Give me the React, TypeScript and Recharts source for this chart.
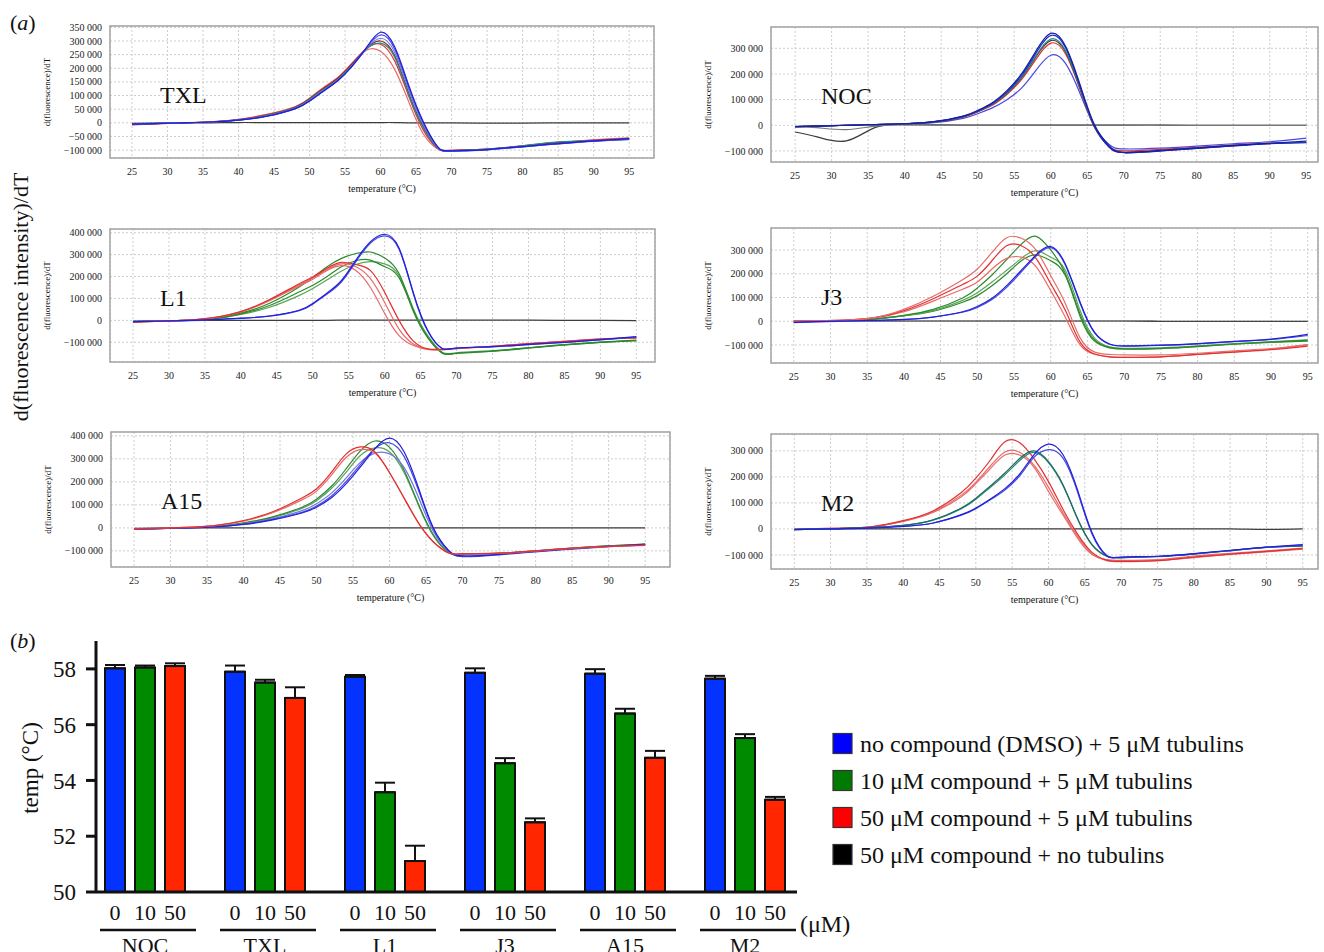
import React from 'react';
import {
  LineChart, Line, XAxis, YAxis, CartesianGrid, ReferenceArea,
  BarChart, Bar, ErrorBar,
} from 'recharts';

const SERIF = '"Liberation Serif", "Times New Roman", serif';

// temperatures (°C) at which the melt curves are sampled
const TEMPS = [25, 28, 32, 36, 40, 44, 48, 50, 52, 54, 56, 58, 60, 62, 64, 66, 68, 70, 75, 80, 85, 90, 95];
const TEMP_TICKS = [25, 30, 35, 40, 45, 50, 55, 60, 65, 70, 75, 80, 85, 90, 95];

// d(fluorescence)/dT values, in thousands
const txlBlue1 = [-5, -3, 0, 3, 10, 24, 52, 80, 117, 155, 208, 276, 332, 278, 135, 5, -86, -103, -98, -87, -76, -66, -58];
const txlBlue2 = [-5, -3, 0, 3, 10, 24, 52, 80, 117, 155, 208, 274, 322, 270, 128, 0, -88, -104, -99, -88, -77, -67, -59];
const txlBlue3 = [-5, -3, 0, 3, 10, 25, 53, 82, 119, 157, 210, 272, 310, 258, 118, -6, -90, -104, -99, -88, -77, -68, -60];
const txlTeal = [-4, -2, 0, 3, 11, 27, 56, 86, 123, 160, 212, 270, 292, 240, 100, -18, -92, -102, -96, -84, -70, -66, -62];
const txlDark = [-5, -3, 0, 3, 11, 27, 57, 88, 126, 163, 215, 273, 300, 246, 106, -14, -92, -103, -97, -85, -73, -66, -60];
const txlRed1 = [-8, -4, 0, 4, 13, 31, 60, 90, 130, 167, 220, 266, 262, 195, 75, -40, -95, -101, -96, -84, -72, -62, -55];
const txlRed2 = [-7, -4, 0, 4, 12, 30, 58, 88, 128, 165, 218, 272, 288, 226, 95, -26, -93, -101, -96, -85, -72, -63, -57];
const txlBlack = [-2, -1, 0, 0, 1, 1, 1, 1, 1, 1, 1, 1, 1, 1, 0, 0, 0, 0, -1, -1, 0, 0, 0];

const nocBlue1 = [-5, -3, 0, 3, 6, 14, 36, 58, 88, 135, 200, 290, 358, 310, 160, 2, -80, -105, -98, -88, -78, -70, -62];
const nocBlue2 = [-5, -3, 0, 3, 6, 14, 35, 56, 85, 130, 194, 282, 350, 304, 154, -4, -85, -107, -100, -90, -80, -72, -68];
const nocTeal = [-5, -3, 0, 3, 6, 13, 34, 55, 83, 127, 188, 272, 336, 292, 148, -5, -84, -106, -99, -89, -79, -70, -66];
const nocDark = [-5, -3, 0, 3, 6, 13, 33, 54, 82, 125, 185, 268, 330, 288, 146, -6, -85, -106, -100, -90, -80, -71, -67];
const nocRed = [-5, -3, 0, 3, 6, 12, 32, 52, 78, 120, 178, 258, 320, 280, 140, -8, -82, -100, -94, -86, -77, -69, -66];
const nocPurple = [-5, -3, 0, 3, 5, 10, 27, 45, 68, 100, 145, 215, 273, 242, 125, -5, -75, -92, -89, -81, -72, -64, -50];
const nocBlack1 = [-26, -45, -61, -8, 3, 2, 1, 1, 1, 1, 1, 1, 1, 1, 1, 1, 1, 1, 1, 0, 0, 0, 0];
const nocBlack2 = [-5, -9, -17, -3, 2, 1, 1, 1, 1, 1, 1, 1, 1, 1, 1, 1, 1, 1, 1, 0, 0, 0, 0];

const l1Blue1 = [-6, -4, -1, 3, 10, 20, 45, 77, 125, 182, 275, 358, 393, 330, 125, -46, -128, -126, -120, -110, -100, -88, -74];
const l1Blue2 = [-6, -4, -1, 3, 9, 19, 43, 74, 120, 176, 268, 352, 386, 325, 120, -50, -129, -127, -121, -111, -101, -89, -76];
const l1Green1 = [-6, -4, 0, 8, 33, 78, 150, 196, 245, 283, 305, 312, 285, 214, 46, -76, -148, -150, -140, -125, -111, -99, -90];
const l1Green2 = [-6, -4, 0, 7, 30, 68, 128, 160, 200, 245, 272, 275, 245, 195, 40, -80, -150, -151, -141, -127, -112, -100, -92];
const l1Green3 = [-6, -4, 0, 6, 27, 60, 112, 145, 185, 225, 255, 268, 258, 205, 52, -70, -145, -148, -138, -125, -112, -100, -92];
const l1Red1 = [-8, -5, 0, 12, 40, 95, 165, 198, 238, 265, 255, 228, 128, 0, -95, -130, -132, -128, -118, -106, -96, -85, -80];
const l1Red2 = [-8, -5, 0, 12, 40, 93, 160, 193, 232, 258, 245, 192, 82, -40, -108, -132, -134, -129, -119, -107, -96, -86, -80];
const l1Red3 = [-8, -5, 0, 11, 38, 90, 155, 188, 228, 250, 228, 151, 32, -70, -115, -133, -134, -129, -119, -107, -96, -86, -80];
const l1Black = [-3, -2, -1, 0, 0, 0, 0, 0, 0, 1, 1, 1, 1, 1, 1, 1, 1, 1, 1, 1, 0, 0, -1];

const j3Blue1 = [-5, -2, 1, 4, 8, 18, 40, 62, 97, 150, 215, 280, 315, 240, 80, -48, -96, -104, -101, -94, -85, -75, -55];
const j3Blue2 = [-6, -3, 0, 3, 7, 17, 38, 58, 92, 143, 208, 275, 310, 236, 76, -50, -97, -105, -102, -95, -86, -77, -60];
const j3Green1 = [-2, 0, 3, 10, 25, 50, 98, 140, 195, 260, 325, 358, 300, 200, 30, -80, -110, -116, -114, -106, -96, -88, -80];
const j3Green2 = [-2, 0, 3, 10, 24, 45, 88, 120, 165, 215, 265, 298, 270, 215, 45, -72, -108, -114, -112, -104, -94, -86, -78];
const j3Green3 = [-2, 0, 3, 9, 22, 42, 80, 108, 150, 200, 255, 280, 255, 192, 20, -85, -112, -118, -115, -107, -97, -89, -84];
const j3Red1 = [0, 2, 5, 15, 50, 105, 175, 220, 290, 352, 350, 300, 192, 74, -70, -130, -140, -142, -142, -135, -125, -115, -98];
const j3Red2 = [0, 2, 5, 15, 45, 95, 155, 190, 255, 318, 318, 265, 158, 45, -88, -138, -150, -152, -150, -140, -130, -120, -105];
const j3Red3 = [0, 2, 5, 14, 40, 85, 135, 165, 220, 265, 270, 230, 129, 16, -100, -140, -150, -152, -150, -140, -128, -118, -100];
const j3Black = [1, 1, 1, 1, 1, 1, 1, 1, 1, 1, 1, 1, 1, 1, 1, 1, 1, 1, 0, 0, 0, 0, 0];

const a15Blue1 = [-5, -3, 0, 4, 15, 35, 65, 90, 130, 190, 265, 345, 390, 330, 170, 0, -95, -122, -115, -102, -90, -80, -72];
const a15Blue2 = [-5, -3, 0, 4, 16, 37, 68, 95, 138, 200, 275, 345, 370, 310, 160, -5, -98, -125, -117, -104, -92, -82, -74];
const a15Blue3 = [-5, -3, 0, 5, 18, 40, 75, 105, 150, 215, 285, 325, 322, 262, 130, -15, -100, -118, -113, -101, -90, -80, -72];
const a15Green1 = [-5, -3, 1, 6, 22, 48, 90, 125, 180, 255, 335, 378, 350, 250, 100, -30, -105, -115, -110, -100, -88, -78, -70];
const a15Green2 = [-5, -3, 1, 6, 20, 45, 85, 118, 170, 240, 315, 348, 330, 240, 95, -35, -106, -116, -111, -100, -88, -78, -70];
const a15Red1 = [-4, -2, 2, 10, 32, 70, 130, 170, 240, 320, 352, 330, 240, 130, 20, -60, -108, -112, -110, -100, -88, -80, -75];
const a15Red2 = [-4, -2, 2, 10, 30, 66, 122, 160, 228, 305, 340, 325, 240, 128, 18, -62, -108, -113, -111, -101, -89, -81, -76];
const a15Black = [-2, -1, 0, 0, 0, 0, 0, 0, 0, 0, 0, 0, 0, 0, 0, 0, 0, 0, 0, 0, 0, 0, 0];

const m2Blue1 = [-3, -1, 1, 4, 10, 22, 55, 80, 115, 155, 210, 285, 326, 285, 150, -15, -102, -108, -105, -95, -82, -70, -60];
const m2Blue2 = [-3, -1, 1, 4, 10, 22, 53, 78, 112, 150, 203, 275, 305, 272, 142, -20, -103, -109, -106, -96, -83, -71, -62];
const m2Teal1 = [-2, 0, 2, 6, 14, 34, 80, 118, 165, 215, 270, 300, 259, 170, 40, -60, -104, -110, -106, -96, -83, -70, -65];
const m2Teal2 = [-2, 0, 2, 6, 14, 33, 78, 114, 160, 208, 262, 294, 255, 166, 38, -62, -105, -111, -107, -97, -84, -71, -66];
const m2Red1 = [-2, 1, 3, 10, 32, 68, 140, 195, 265, 335, 332, 270, 182, 75, -20, -90, -120, -125, -122, -108, -97, -86, -76];
const m2Red2 = [-2, 1, 3, 9, 30, 64, 130, 180, 242, 296, 295, 245, 160, 62, -28, -95, -122, -126, -122, -110, -98, -88, -78];
const m2Red3 = [-2, 1, 3, 9, 29, 62, 124, 174, 232, 284, 284, 238, 144, 54, -35, -98, -118, -121, -118, -104, -94, -84, -74];
const m2Black = [-3, -1, 0, 0, 0, 0, 0, 0, 0, 0, 0, 0, 0, 0, 0, 0, 0, 0, 0, 0, 0, -2, 0];

// melting temperatures (bar chart)
const GROUPS = ['NOC', 'TXL', 'L1', 'J3', 'A15', 'M2'];
const DOSES = ['0', '10', '50'];
const dmsoMean = [58.02, 57.9, 57.72, 57.86, 57.83, 57.65];
const dmsoErr = [0.12, 0.22, 0.06, 0.16, 0.16, 0.1];
const c10Mean = [58.05, 57.51, 53.58, 54.62, 56.4, 55.52];
const c10Err = [0.07, 0.1, 0.34, 0.18, 0.17, 0.14];
const c50Mean = [58.1, 56.96, 51.11, 52.5, 54.81, 53.31];
const c50Err = [0.1, 0.38, 0.55, 0.14, 0.25, 0.1];

const LEGEND = [
  { label: 'no compound (DMSO) + 5 μM tubulins', color: '#0000ff' },
  { label: '10 μM compound + 5 μM tubulins', color: '#007a00' },
  { label: '50 μM compound + 5 μM tubulins', color: '#ff0000' },
  { label: '50 μM compound + no tubulins', color: '#000000' },
];

const BLUE = '#2020d8';
const NAVY = '#14219e';
const BLUE_MID = '#4848e2';
const BLUE_LIGHT = '#7474ea';
const GREEN = '#2c8a2c';
const GREEN_LIGHT = '#5aa55a';
const TEAL = '#2a8c7c';
const DARK_TEAL = '#1f6b5e';
const RED = '#e23030';
const RED_LIGHT = '#e96a6a';
const DARK_RED = '#7a2a2a';
const GREY = '#3c3c3c';

interface Curve { values: number[]; color: string }
interface PanelDef {
  title: string;
  x: number; y: number; w: number; h: number;
  xDomain: [number, number];
  yDomain: [number, number];
  yTicks: number[];
  curves: Curve[];
}

const PANELS: PanelDef[] = [
  {
    title: 'TXL', x: 110, y: 26, w: 544, h: 132, xDomain: [21.9, 98.5], yDomain: [-129, 355],
    yTicks: [-100, -50, 0, 50, 100, 150, 200, 250, 300, 350],
    curves: [
      { values: txlBlack, color: GREY }, { values: txlRed1, color: RED_LIGHT }, { values: txlRed2, color: RED },
      { values: txlDark, color: DARK_RED }, { values: txlTeal, color: TEAL }, { values: txlBlue3, color: BLUE_LIGHT },
      { values: txlBlue2, color: BLUE_MID }, { values: txlBlue1, color: BLUE },
    ],
  },
  {
    title: 'NOC', x: 771, y: 27, w: 547, h: 135, xDomain: [21.7, 96.6], yDomain: [-143, 383],
    yTicks: [-100, 0, 100, 200, 300],
    curves: [
      { values: nocBlack1, color: GREY }, { values: nocBlack2, color: '#777777' }, { values: nocPurple, color: BLUE_MID },
      { values: nocRed, color: RED }, { values: nocDark, color: GREY }, { values: nocTeal, color: TEAL },
      { values: nocBlue2, color: BLUE }, { values: nocBlue1, color: NAVY },
    ],
  },
  {
    title: 'L1', x: 110, y: 229, w: 545, h: 133, xDomain: [21.8, 97.6], yDomain: [-190, 417],
    yTicks: [-100, 0, 100, 200, 300, 400],
    curves: [
      { values: l1Black, color: GREY }, { values: l1Green3, color: GREEN_LIGHT }, { values: l1Green2, color: GREEN },
      { values: l1Green1, color: GREEN }, { values: l1Red3, color: RED_LIGHT }, { values: l1Red2, color: RED_LIGHT },
      { values: l1Red1, color: RED }, { values: l1Blue2, color: BLUE_MID }, { values: l1Blue1, color: BLUE },
    ],
  },
  {
    title: 'J3', x: 771, y: 228, w: 547, h: 135, xDomain: [21.9, 96.4], yDomain: [-176, 393],
    yTicks: [-100, 0, 100, 200, 300],
    curves: [
      { values: j3Black, color: '#111111' }, { values: j3Green3, color: GREEN }, { values: j3Green2, color: GREEN_LIGHT },
      { values: j3Green1, color: GREEN }, { values: j3Red3, color: RED_LIGHT }, { values: j3Red2, color: RED },
      { values: j3Red1, color: RED_LIGHT }, { values: j3Blue2, color: BLUE_MID }, { values: j3Blue1, color: BLUE },
    ],
  },
  {
    title: 'A15', x: 111, y: 432, w: 559, h: 135, xDomain: [21.85, 98.4], yDomain: [-170, 417],
    yTicks: [-100, 0, 100, 200, 300, 400],
    curves: [
      { values: a15Black, color: GREY }, { values: a15Green2, color: GREEN_LIGHT }, { values: a15Green1, color: GREEN },
      { values: a15Blue3, color: BLUE_LIGHT }, { values: a15Blue2, color: BLUE_MID }, { values: a15Blue1, color: BLUE },
      { values: a15Red2, color: RED_LIGHT }, { values: a15Red1, color: RED },
    ],
  },
  {
    title: 'M2', x: 771, y: 434, w: 547, h: 135, xDomain: [21.8, 97.1], yDomain: [-154, 365],
    yTicks: [-100, 0, 100, 200, 300],
    curves: [
      { values: m2Black, color: GREY }, { values: m2Red3, color: RED_LIGHT }, { values: m2Red2, color: RED_LIGHT },
      { values: m2Red1, color: RED }, { values: m2Teal2, color: TEAL }, { values: m2Teal1, color: DARK_TEAL },
      { values: m2Blue2, color: BLUE_MID }, { values: m2Blue1, color: BLUE },
    ],
  },
];

const YW = 66;
const TOP = 8;

const fmtK = (v: number) => (v === 0 ? '0' : `${v < 0 ? '\u2212' : ''}${Math.abs(v)} 000`);

const smallTick = { fontSize: 10, fill: '#222', fontFamily: SERIF };

const MeltPanel = ({ p }: { p: PanelDef }) => {
  const rows = TEMPS.map((t, i) => {
    const row: Record<string, number> = { t };
    p.curves.forEach((c, j) => { row[`c${j}`] = c.values[i]; });
    return row;
  });
  return (
    <div style={{ position: 'absolute', left: p.x - YW, top: p.y - TOP }}>
      <LineChart width={YW + p.w + 4} height={p.h + 32 + TOP} data={rows} margin={{ top: TOP, right: 4, bottom: 0, left: 0 }}>
        <CartesianGrid stroke="#cdcdcd" strokeDasharray="2 2" />
        <XAxis
          dataKey="t" type="number" domain={p.xDomain} ticks={TEMP_TICKS} allowDataOverflow interval={0}
          tickLine={false} axisLine={false} tickMargin={4} height={32} tick={smallTick}
        />
        <YAxis
          type="number" domain={p.yDomain} ticks={p.yTicks} allowDataOverflow tickFormatter={fmtK} interval={0}
          tickLine={false} axisLine={false} width={YW} tick={smallTick}
        />
        <ReferenceArea
          x1={p.xDomain[0]} x2={p.xDomain[1]} y1={p.yDomain[0]} y2={p.yDomain[1]}
          fill="none" stroke="#a4a4a4" strokeWidth={1.5} ifOverflow="visible"
        />
        {p.curves.map((c, j) => (
          <Line
            key={j} dataKey={`c${j}`} type="natural" stroke={c.color} strokeWidth={1.2}
            dot={false} isAnimationActive={false}
          />
        ))}
      </LineChart>
    </div>
  );
};

const GroupTick = (props: any) => {
  const { x, y, payload } = props;
  return (
    <g fontFamily={SERIF} fontSize={22} fill="#111">
      {DOSES.map((d, i) => (
        <text key={d} x={x + (i - 1) * 30} y={y + 28} textAnchor="middle">{d}</text>
      ))}
      <line x1={x - 45} x2={x + 51} y1={y + 38} y2={y + 38} stroke="#111" strokeWidth={2.5} />
      <text x={x} y={y + 61} textAnchor="middle">{payload.value}</text>
    </g>
  );
};

const barRows = GROUPS.map((g, i) => ({
  name: g,
  dmso: dmsoMean[i], dmsoErr: [0, dmsoErr[i]],
  c10: c10Mean[i], c10Err: [0, c10Err[i]],
  c50: c50Mean[i], c50Err: [0, c50Err[i]],
}));

const App = () => {
  return (
    <div style={{
      position: 'absolute', left: 0, top: 0, width: 1324, height: 952,
      overflow: 'hidden', background: '#fff', fontFamily: SERIF,
    }}>
      {PANELS.map((p) => <MeltPanel key={p.title} p={p} />)}

      <div style={{ position: 'absolute', left: 0, top: 630 }}>
        <BarChart
          width={830} height={322} data={barRows} barSize={20} barGap={10}
          margin={{ top: 11, right: 33, bottom: 0, left: 0 }}
        >
          <XAxis
            dataKey="name" padding={{ left: -11, right: -8 }} height={60}
            tickLine={false} tickSize={0} tickMargin={0} interval={0}
            axisLine={{ stroke: '#111', strokeWidth: 3 }} tick={<GroupTick />}
          />
          <YAxis
            type="number" domain={[50, 59]} ticks={[50, 52, 54, 56, 58]} width={96}
            tickSize={10} tickMargin={10}
            axisLine={{ stroke: '#111', strokeWidth: 3 }} tickLine={{ stroke: '#111', strokeWidth: 3 }}
            tick={{ fontSize: 23, fill: '#111', fontFamily: SERIF }}
          />
          <Bar dataKey="dmso" fill="#0433ff" stroke="#111" strokeWidth={2} isAnimationActive={false}>
            <ErrorBar dataKey="dmsoErr" width={10} stroke="#111" strokeWidth={2} direction="y" />
          </Bar>
          <Bar dataKey="c10" fill="#008a00" stroke="#111" strokeWidth={2} isAnimationActive={false}>
            <ErrorBar dataKey="c10Err" width={10} stroke="#111" strokeWidth={2} direction="y" />
          </Bar>
          <Bar dataKey="c50" fill="#ff2600" stroke="#111" strokeWidth={2} isAnimationActive={false}>
            <ErrorBar dataKey="c50Err" width={10} stroke="#111" strokeWidth={2} direction="y" />
          </Bar>
        </BarChart>
      </div>

      <svg width={1324} height={952} style={{ position: 'absolute', left: 0, top: 0, pointerEvents: 'none' }}
        fontFamily={SERIF} fill="#111">
        <text x={10} y={30} fontSize={22}>(<tspan fontStyle="italic">a</tspan>)</text>
        <text x={10} y={648} fontSize={22}>(<tspan fontStyle="italic">b</tspan>)</text>
        <text x={28} y={297} fontSize={22} textAnchor="middle" transform="rotate(-90 28 297)">
          d(fluorescence intensity)/dT
        </text>
        {PANELS.map((p) => {
          const cx = p.x + p.w / 2;
          const ly = p.y + p.h / 2;
          const lx = p.x - 60;
          return (
            <g key={p.title}>
              <text x={p.x + 50} y={p.y + 77} fontSize={24}>{p.title}</text>
              <text x={cx} y={p.y + p.h + 34} fontSize={10} textAnchor="middle">temperature (°C)</text>
              <text x={lx} y={ly} fontSize={9} textAnchor="middle" transform={`rotate(-90 ${lx} ${ly})`}>
                d(fluorescence)/dT
              </text>
            </g>
          );
        })}
        <text x={38} y={768} fontSize={23} textAnchor="middle" transform="rotate(-90 38 768)">temp (°C)</text>
        <text x={800} y={932} fontSize={24}>(μM)</text>
        {LEGEND.map((l, i) => {
          const cy = 743.5 + i * 37;
          return (
            <g key={l.label}>
              <rect x={833} y={cy - 10} width={19} height={20} fill={l.color} stroke="#333" strokeWidth={1.2} />
              <text x={860} y={cy + 8} fontSize={24}>{l.label}</text>
            </g>
          );
        })}
      </svg>
    </div>
  );
};

export default App;
